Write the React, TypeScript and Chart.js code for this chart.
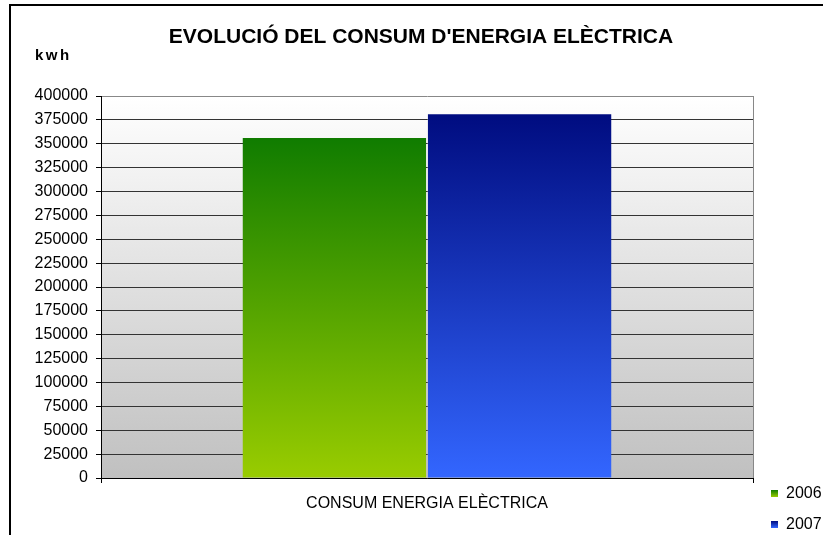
import React, { useEffect, useRef } from "react";
import { Chart, registerables } from "chart.js";

Chart.register(...registerables);

// ---- data ----
const categories = ["CONSUM ENERGIA ELÈCTRICA"];
const seriesLabels = ["2006", "2007"];
const values2006 = [356000];
const values2007 = [381000];
const yMin = 0;
const yMax = 400000;
const yStep = 25000;
const titleText = "EVOLUCIÓ DEL CONSUM D'ENERGIA ELÈCTRICA";
const yUnitText = "kwh";

// ---- styles ----
const seriesGradients: string[][] = [
  ["#107c00", "#99cc00"],
  ["#000c80", "#3366ff"],
];
const FONT = "'Liberation Sans', Arial, sans-serif";

function barGradient(idx: number) {
  return (ctx: any) => {
    const chart = ctx.chart;
    const area = chart.chartArea;
    const cols = seriesGradients[idx];
    if (!area || ctx.type !== "data") return cols[1];
    const y = chart.scales.y;
    const v = ctx.parsed && ctx.parsed.y != null ? ctx.parsed.y : ctx.raw;
    const top = y.getPixelForValue(v);
    const bottom = y.getPixelForValue(0);
    const g = chart.ctx.createLinearGradient(0, top, 0, bottom);
    g.addColorStop(0, cols[0]);
    g.addColorStop(1, cols[1]);
    return g;
  };
}

const decorPlugin = {
  id: "decor",
  beforeDraw(chart: any) {
    const { ctx, chartArea: a } = chart;
    ctx.save();
    const g = ctx.createLinearGradient(0, a.top, 0, a.bottom);
    g.addColorStop(0, "#ffffff");
    g.addColorStop(1, "#c0c0c0");
    ctx.fillStyle = g;
    ctx.fillRect(a.left, a.top, a.right - a.left, a.bottom - a.top);
    ctx.restore();
  },
  afterDraw(chart: any) {
    const { ctx } = chart;
    ctx.save();
    // frame
    ctx.fillStyle = "#000";
    ctx.fillRect(9, 4, 814, 2);
    ctx.fillRect(9, 4, 2, 531);
    // title
    ctx.font = `bold 21px ${FONT}`;
    ctx.textAlign = "center";
    ctx.textBaseline = "alphabetic";
    ctx.fillText(titleText, 421, 43);
    // unit
    ctx.font = `bold 15px ${FONT}`;
    ctx.textAlign = "left";
    (ctx as any).letterSpacing = "2.5px";
    ctx.fillText(yUnitText, 35, 60);
    (ctx as any).letterSpacing = "0px";
    // legend
    chart.data.datasets.forEach((ds: any, i: number) => {
      const y0 = 490 + i * 31;
      const cols = seriesGradients[i];
      const g = ctx.createLinearGradient(0, y0, 0, y0 + 7);
      g.addColorStop(0, cols[0]);
      g.addColorStop(1, cols[1]);
      ctx.fillStyle = g;
      ctx.fillRect(771, y0, 7, 7);
      ctx.fillStyle = "#000";
      ctx.font = `16px ${FONT}`;
      ctx.textBaseline = "middle";
      ctx.textAlign = "left";
      ctx.fillText(ds.label, 786, y0 + 4);
    });
    ctx.restore();
  },
};

export default function App() {
  const ref = useRef<HTMLCanvasElement | null>(null);
  useEffect(() => {
    document.body.style.margin = "0";
    const canvas = ref.current!;
    const chart = new Chart(canvas, {
      type: "bar",
      data: {
        labels: categories,
        datasets: [
          {
            label: seriesLabels[0],
            data: values2006,
            backgroundColor: barGradient(0),
            borderWidth: 0,
            categoryPercentage: 0.568,
            barPercentage: 0.99,
          },
          {
            label: seriesLabels[1],
            data: values2007,
            backgroundColor: barGradient(1),
            borderWidth: 0,
            categoryPercentage: 0.568,
            barPercentage: 0.99,
          },
        ],
      },
      options: {
        responsive: false,
        animation: false,
        devicePixelRatio: 1,
        layout: { padding: { top: 96, right: 70, left: 0, bottom: 0 } },
        plugins: {
          legend: { display: false },
          title: { display: false },
          tooltip: { enabled: false },
        },
        scales: {
          x: {
            afterFit: (s: any) => {
              s.height = 57;
            },
            grid: {
              offset: true,
              color: "#888888",
              tickColor: "#000000",
              tickLength: 5,
            },
            border: { color: "#000000", width: 1 },
            ticks: {
              color: "#000",
              font: { family: FONT, size: 16 },
              padding: 11,
            },
          },
          y: {
            min: yMin,
            max: yMax,
            afterFit: (s: any) => {
              s.width = 101;
            },
            grid: {
              color: (c: any) => (c.tick && c.tick.value === yMax ? "#888888" : "#333333"),
              tickColor: "#000000",
              tickLength: 5,
            },
            border: { color: "#000000", width: 1 },
            ticks: {
              stepSize: yStep,
              color: "#000",
              font: { family: FONT, size: 16 },
              padding: 8,
              callback: (v: any) => String(v),
            },
          },
        },
      },
      plugins: [decorPlugin],
    });
    return () => chart.destroy();
  }, []);
  return (
    <div style={{ position: "absolute", left: 0, top: 0, width: 823, height: 535 }}>
      <canvas ref={ref} width={823} height={535} />
    </div>
  );
}
